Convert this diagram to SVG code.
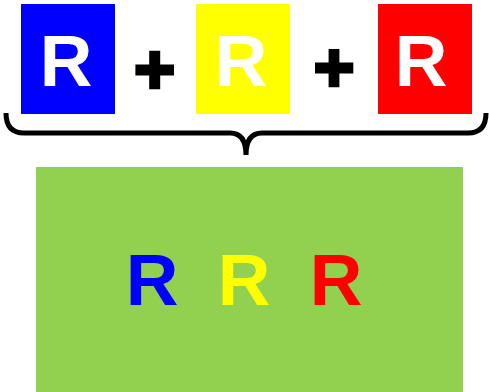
<svg xmlns="http://www.w3.org/2000/svg" width="489" height="392" viewBox="0 0 489 392">
<style>
.t{font-family:"Liberation Sans",Arial,sans-serif;font-weight:bold;font-size:73px}
.w{fill:#fff}
.p{fill:#000}
</style>
<rect width="489" height="392" fill="#fff"/>
<g id="blue"><rect x="21" y="4" width="94" height="110" fill="#0000ff"/><text class="t w" x="39.7" y="86">R</text></g>
<g id="plus1"><path class="p" d="M149.2,50.7h11v13.8h13.8v11h-13.8v13.8h-11v-13.8h-13.8v-11h13.8z"/></g>
<g id="yellow"><rect x="196" y="4" width="94" height="110" fill="#ffff00"/><text class="t w" x="214.7" y="86">R</text></g>
<g id="plus2"><path class="p" d="M328.6,49h10.8v13.6h13.9v10.8h-13.9v13.9h-10.8v-13.9h-13.6v-10.8h13.6z"/></g>
<g id="red"><rect x="378" y="4" width="94" height="110" fill="#ff0000"/><text class="t w" x="394.7" y="86">R</text></g>
<g id="connectors"><path d="M6,113 Q6,133 24,133 H230 Q246,133 246,155 Q246,133 262,133 H468 Q486,133 486,113" fill="none" stroke="#000" stroke-width="5"/></g>
<g id="result"><rect x="36" y="167" width="427" height="226" fill="#92d050"/>
<text class="t" x="125.7" y="304.5" fill="#0000ff">R</text>
<text class="t" x="217.7" y="304.5" fill="#ffff00">R</text>
<text class="t" x="309.7" y="304.5" fill="#ff0000">R</text></g>
</svg>
